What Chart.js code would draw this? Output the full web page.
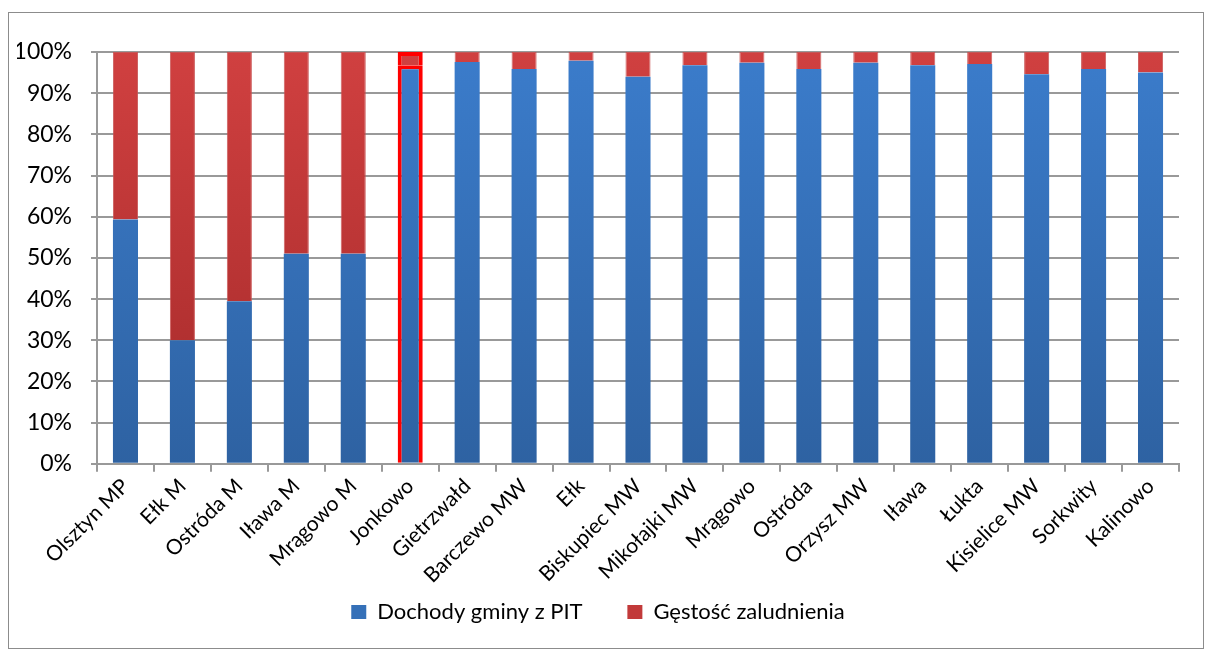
<!DOCTYPE html>
<html><head><meta charset="utf-8">
<script src="https://cdn.jsdelivr.net/npm/chart.js@4"></script>
<style>
html,body{margin:0;padding:0;background:#fff;}
#box{position:absolute;left:8px;top:12px;width:1194px;height:635px;border:1px solid #8c8c8c;}
canvas{display:block;}
</style></head><body>
<div id="box"><canvas id="c" width="1194" height="635"></canvas></div>
<script>
const categories = ["Olsztyn MP","Ełk M","Ostróda M","Iława M","Mrągowo M","Jonkowo","Gietrzwałd","Barczewo MW","Ełk","Biskupiec MW","Mikołajki MW","Mrągowo","Ostróda","Orzysz MW","Iława","Łukta","Kisielice MW","Sorkwity","Kalinowo"];
const pitShare = [59.3,30.0,39.5,51.0,51.0,96.8,97.6,95.9,97.9,94.0,96.8,97.4,95.9,97.4,96.8,97.1,94.6,95.9,95.0];
const densityShare = [40.7,70.0,60.5,49.0,49.0,3.2,2.4,4.1,2.1,6.0,3.2,2.6,4.1,2.6,3.2,2.9,5.4,4.1,5.0];
const seriesNames = ["Dochody gminy z PIT","Gęstość zaludnienia"];
const highlighted = "Jonkowo";

function grad(ctx, c1, c2){
  const ch = ctx.chart; const a = ch.chartArea;
  if(!a) return c1;
  const g = ch.ctx.createLinearGradient(0,a.bottom,0,a.top);
  g.addColorStop(0,c1); g.addColorStop(1,c2);
  return g;
}
const FONT = "Lato, 'Open Sans', sans-serif";
new Chart(document.getElementById('c'), {
  type:'bar',
  data:{labels:categories,datasets:[
    {label:seriesNames[0],data:pitShare,
     backgroundColor:ctx=>grad(ctx,'#2e62a2','#3b7ccb'),
     borderColor:categories.map(c=>c===highlighted?'#ff0000':'rgba(0,0,0,0)'),
     borderWidth:categories.map(c=>c===highlighted?4:0),
     barPercentage:0.44,categoryPercentage:1},
    {label:seriesNames[1],data:densityShare,
     backgroundColor:ctx=>grad(ctx,'#a52a2a','#d04040'),
     borderColor:categories.map(c=>c===highlighted?'#ff0000':'rgba(200,80,80,0.9)'),
     borderWidth:categories.map(c=>c===highlighted?4:1),
     barPercentage:0.44,categoryPercentage:1}
  ]},
  options:{
    responsive:false,animation:false,
    layout:{padding:{top:39,right:24,left:8,bottom:15}},
    plugins:{
      legend:{position:'bottom',labels:{font:{family:FONT,size:22},color:'#000',boxWidth:15,boxHeight:14,padding:11,
        generateLabels:ch=>[{text:seriesNames[0]+'      ',fillStyle:'#3570b8',strokeStyle:'#3570b8',lineWidth:0,datasetIndex:0},{text:seriesNames[1],fillStyle:'#c23a3a',strokeStyle:'#c23a3a',lineWidth:0,datasetIndex:1}]}},
      tooltip:{enabled:false}
    },
    scales:{
      x:{stacked:true,
        afterFit:s=>{s.paddingLeft=0;s.paddingRight=0;s.getPadding=()=>({left:0,right:0,top:0,bottom:0});},
        grid:{offset:true,drawOnChartArea:false,color:'#999',lineWidth:2,tickLength:8},
        border:{color:'#999',width:2},
        ticks:{maxRotation:45,minRotation:45,color:'#000',font:{family:FONT,size:21},padding:2}},
      y:{stacked:true,min:0,max:100,
        afterFit:s=>{s.width=80;},
        ticks:{stepSize:10,color:'#000',font:{family:FONT,size:23},padding:19,callback:v=>v+'%'},
        grid:{color:'#999',lineWidth:2,tickLength:6},
        border:{color:'#999',width:2}}
    }
  }
});
</script></body></html>
